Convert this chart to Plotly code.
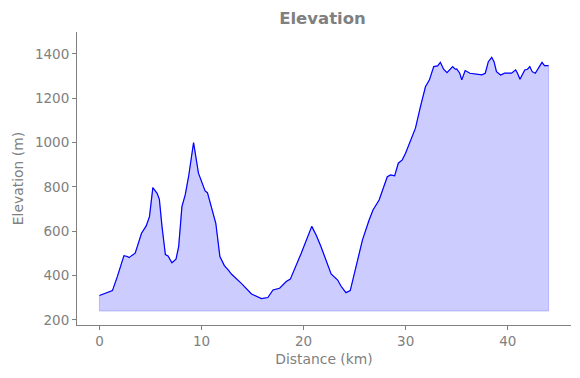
import plotly.graph_objects as go

# Distance along route (km)
distance_km = [
    0.0, 0.6, 1.27, 1.75, 2.4, 2.73, 2.9, 3.15, 3.5, 4.12, 4.58, 4.9, 5.23, 5.65, 5.87,
    6.13, 6.46, 6.72, 7.1, 7.5, 7.76, 8.08, 8.4, 8.73, 9.22, 9.7, 10.35, 10.58, 11.0,
    11.4, 11.8, 12.24, 12.63, 12.95, 13.9, 14.9, 15.87, 16.5, 17.0, 17.65, 18.3, 18.7,
    19.77, 20.8, 21.23, 21.7, 22.7, 23.34, 23.66, 24.15, 24.57, 25.12, 25.77, 26.42,
    26.8, 27.4, 28.2, 28.53, 28.92, 29.28, 29.67, 29.99, 30.64, 30.96, 31.45, 31.94,
    32.33, 32.75, 33.13, 33.4, 33.72, 34.05, 34.6, 34.86, 35.0, 35.3, 35.5, 35.83,
    36.3, 36.97, 37.46, 37.8, 38.1, 38.43, 38.66, 38.9, 39.3, 39.7, 40.38, 40.77,
    40.96, 41.2, 41.67, 41.94, 42.16, 42.4, 42.7, 43.1, 43.36, 43.6, 43.95, 44.0,
]

# Elevation (m)
elevation_m = [
    310, 320, 332, 395, 490, 486, 481, 490, 501, 591, 624, 666, 797, 771, 744,
    621, 495, 489, 458, 474, 531, 711, 764, 846, 1000, 862, 782, 774, 708,
    636, 486, 445, 425, 406, 365, 317, 296, 301, 335, 343, 373, 384,
    501, 622, 583, 531, 407, 380, 353, 323, 332, 441, 561, 651,
    696, 741, 846, 854, 850, 907, 922, 952, 1027, 1065, 1162, 1252,
    1283, 1343, 1346, 1362, 1331, 1316, 1343, 1331, 1332, 1313, 1283, 1325,
    1313, 1310, 1306, 1313, 1365, 1385, 1365, 1320, 1305, 1313, 1313, 1328,
    1313, 1286, 1328, 1331, 1343, 1320, 1313, 1343, 1362, 1347, 1347, 1347,
]

baseline_m = 240  # bottom of the filled area

x_ticks = [0, 10, 20, 30, 40]
y_ticks = [200, 400, 600, 800, 1000, 1200, 1400]

GRAY = "#808080"
FONT = "DejaVu Sans"

# page body has an 8px margin, so the figure is drawn 8px in from the top-left
W, H = 572, 370

fill_x = distance_km + distance_km[::-1]
fill_y = elevation_m + [baseline_m] * len(distance_km)

fig = go.Figure()
fig.add_trace(go.Scatter(
    x=fill_x + [fill_x[0]], y=fill_y + [fill_y[0]],
    mode="lines", fill="toself",
    fillcolor="rgba(0,0,255,0.2)",
    line=dict(color="rgba(0,0,255,0.2)", width=1),
    hoverinfo="skip", showlegend=False,
))
fig.add_trace(go.Scatter(
    x=distance_km, y=elevation_m, mode="lines",
    line=dict(color="blue", width=1.2),
    showlegend=False,
))

axis_common = dict(
    showgrid=False, zeroline=False, showline=True, linecolor=GRAY, linewidth=1,
    ticks="outside", ticklen=4, tickcolor=GRAY, tickwidth=1,
    tickfont=dict(family=FONT, size=13.5, color=GRAY),
    mirror=False,
)

fig.update_layout(
    width=W, height=H,
    margin=dict(l=66, r=9, t=24, b=53),
    paper_bgcolor="white", plot_bgcolor="white",
    title=dict(text="<b>Elevation</b>", x=(66 + 563) / 2 / W, xanchor="center",
               y=1 - 10 / H, yanchor="middle",
               font=dict(family=FONT, size=16.5, color=GRAY)),
    xaxis=dict(range=[-2.2, 46.2], tickvals=x_ticks,
               title=dict(text="Distance (km)", font=dict(family=FONT, size=13.9, color=GRAY),
                          standoff=6),
               **axis_common),
    yaxis=dict(range=[177, 1499], tickvals=y_ticks,
               title=dict(text="Elevation (m)", font=dict(family=FONT, size=13.9, color=GRAY),
                          standoff=8),
               **axis_common),
)

fig.write_html("out.html")
